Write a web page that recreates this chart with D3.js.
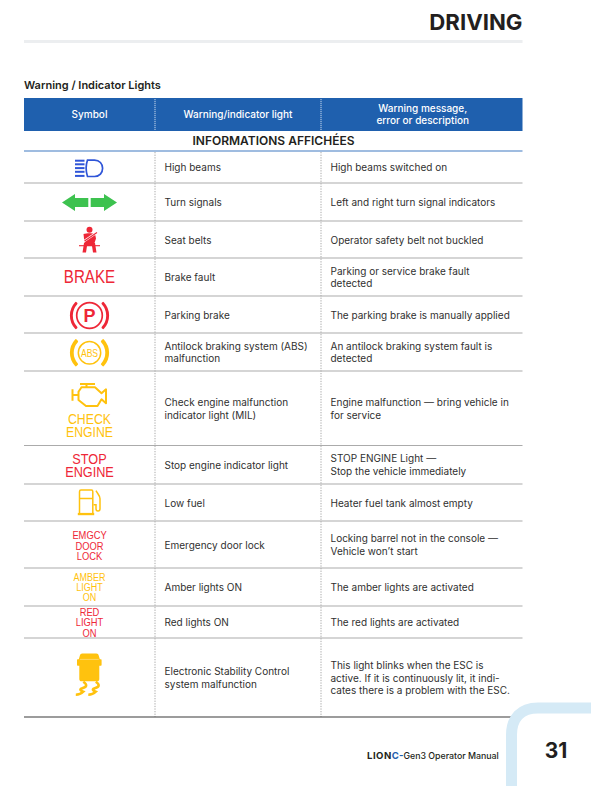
<!DOCTYPE html>
<html><head><meta charset="utf-8">
<script src="https://d3js.org/d3.v7.min.js"></script>
<style>html,body{margin:0;padding:0;background:#fff}svg{display:block}</style>
</head><body><div id="c"></div>
<script>
// ---- content ----
const pageTitle = "DRIVING";
const tableTitle = "Warning / Indicator Lights";
const headerLabels = [["Symbol"], ["Warning/indicator light"], ["Warning message,", "error or description"]];
const sectionLabel = "INFORMATIONS AFFICHÉES";
const lightNames = [
  ["High beams"], ["Turn signals"], ["Seat belts"], ["Brake fault"], ["Parking brake"],
  ["Antilock braking system (ABS)", "malfunction"],
  ["Check engine malfunction", "indicator light (MIL)"],
  ["Stop engine indicator light"], ["Low fuel"], ["Emergency door lock"],
  ["Amber lights ON"], ["Red lights ON"],
  ["Electronic Stability Control", "system malfunction"]
];
const lightDescriptions = [
  ["High beams switched on"], ["Left and right turn signal indicators"],
  ["Operator safety belt not buckled"],
  ["Parking or service brake fault", "detected"],
  ["The parking brake is manually applied"],
  ["An antilock braking system fault is", "detected"],
  ["Engine malfunction — bring vehicle in", "for service"],
  ["STOP ENGINE Light —", "Stop the vehicle immediately"],
  ["Heater fuel tank almost empty"],
  ["Locking barrel not in the console —", "Vehicle won’t start"],
  ["The amber lights are activated"], ["The red lights are activated"],
  ["This light blinks when the ESC is", "active. If it is continuously lit, it indi-", "cates there is a problem with the ESC."]
];
const symbolKinds = ["beam","turn","belt","text","park","abs","engine","text","fuel","text","text","text","esc"];
const symbolWords = [[],[],[],["BRAKE"],[],[],["CHECK","ENGINE"],["STOP","ENGINE"],[],["EMGCY","DOOR","LOCK"],["AMBER","LIGHT","ON"],["RED","LIGHT","ON"],[]];
const symbolColours = ["#2f55d8","#3dc24f","#ee2737","#ee2737","#ee2737","#ffc20e","#ffc20e","#ee2737","#ffc20e","#ee2737","#ffc20e","#ee2737","#ffc20e"];
const footerBrand = ["LION", "C-", "Gen3 Operator Manual"];
const pageNumber = "31";

// ---- layout ----
const W = 591, H = 786;
const colEdges = [24, 155, 321, 522.5];
const rowEdges = [151, 183, 221, 258, 296, 333, 371, 445.5, 484, 521, 568, 606, 638, 717];
const wordStyle = [null,null,null,{s:18.5,y:[277]},null,null,{s:15,y:[418.5,431.5]},{s:15.5,y:[458.5,472]},null,{s:11.4,y:[535.5,545.7,555.9]},{s:11,y:[577.5,587.5,597.5]},{s:11.4,y:[612,622.5,633]},null];
const narrowX = 0.82;
const sans = "Inter, 'Noto Sans', sans-serif";
const arial = "'Liberation Sans',sans-serif";
const ink = "#231f20";

const svg = d3.select("#c").append("svg").attr("width", W).attr("height", H).attr("viewBox", `0 0 ${W} ${H}`);
const rows = lightNames.map((n, i) => ({
  i, name: n, desc: lightDescriptions[i], kind: symbolKinds[i], words: symbolWords[i],
  colour: symbolColours[i], y0: rowEdges[i], y1: rowEdges[i + 1], ws: wordStyle[i]
}));
const cx = 89.5;

// title
svg.append("text").attr("x", 522.5).attr("y", 30).attr("text-anchor", "end")
  .attr("font-family", sans).attr("font-weight", 700).attr("font-size", 22.2).attr("fill", ink).text(pageTitle);
svg.append("rect").attr("x", 24).attr("y", 40).attr("width", 498.5).attr("height", 3).attr("fill", "#eceef0");
svg.append("text").attr("x", 24).attr("y", 89).attr("font-family", sans).attr("font-weight", 600)
  .attr("font-size", 11).attr("fill", ink).text(tableTitle);

// header
svg.append("rect").attr("x", colEdges[0]).attr("y", 98).attr("width", colEdges[3] - colEdges[0]).attr("height", 33).attr("fill", "#1f60ae");
headerLabels.forEach((lines, c) => {
  const x = (colEdges[c] + colEdges[c + 1]) / 2 + (c === 2 ? 1 : 0);
  lines.forEach((t, k) => svg.append("text").attr("x", x)
    .attr("y", 114.5 + (k - (lines.length - 1) / 2) * 12 + 3.7).attr("text-anchor", "middle")
    .attr("font-family", sans).attr("font-size", 10).attr("font-weight", 500).attr("fill", "#fff").text(t));
});
[colEdges[1], colEdges[2]].forEach(x => svg.append("line").attr("x1", x).attr("x2", x).attr("y1", 99).attr("y2", 130)
  .attr("stroke", "#c9d8ec").attr("stroke-width", 1).attr("stroke-dasharray", "1.2 0.8"));
svg.append("text").attr("x", 273.5).attr("y", 145).attr("text-anchor", "middle").attr("font-family", sans)
  .attr("font-weight", 600).attr("font-size", 12).attr("fill", ink).text(sectionLabel);
svg.append("line").attr("x1", 24).attr("x2", 522.5).attr("y1", 151).attr("y2", 151).attr("stroke", "#7fa6d6").attr("stroke-width", 1.3);

// vertical dotted rules
[colEdges[1], colEdges[2]].forEach(x => svg.append("line").attr("x1", x).attr("x2", x).attr("y1", 152).attr("y2", 717)
  .attr("stroke", "#a9a9a9").attr("stroke-width", 1).attr("stroke-dasharray", "1.3 1.3"));

// rows
const g = svg.selectAll("g.row").data(rows).join("g").attr("class", "row");
g.append("line").attr("x1", 24).attr("x2", 522.5).attr("y1", d => d.y1).attr("y2", d => d.y1)
  .attr("stroke", (d, i) => i === rows.length - 1 ? "#3b3b3b" : "#ababab").attr("stroke-width", 1.1);
function addLines(sel, x, key) {
  sel.each(function (d) {
    const lines = d[key], mid = (d.y0 + d.y1) / 2;
    d3.select(this).selectAll("text." + key).data(lines).join("text").attr("class", key)
      .attr("x", x).attr("y", (t, k) => mid + (k - (lines.length - 1) / 2) * 12.6 + 4)
      .attr("font-family", sans).attr("font-size", 10).attr("fill", "#303030").text(t => t);
  });
}
addLines(g, 164.5, "name");
addLines(g, 330.5, "desc");

// symbol text, condensed horizontally
g.filter(d => d.words.length > 0).each(function (d) {
  d3.select(this).selectAll("text.w").data(d.words).join("text").attr("class", "w")
    .attr("transform", (t, k) => `translate(${cx},${d.ws.y[k] + d.ws.s * 0.35}) scale(${narrowX},1)`)
    .attr("text-anchor", "middle").attr("font-family", arial).attr("font-size", d.ws.s).attr("fill", d.colour).text(t => t);
});

// symbol glyphs, drawn in a local box and placed by transform
const place = (sel, x, y) => sel.append("g").attr("transform", `translate(${x},${y})`);
const draw = {
  beam(s, c) {
    const t = place(s, 89, 168.3);
    [-8.6, -5, -1.2, 2.5, 6.6].forEach(v => t.append("rect").attr("x", -14).attr("y", v).attr("width", 9.5).attr("height", 2).attr("fill", c));
    t.append("path").attr("d", "M-1.5-8.2H5.5C10.5-8.2 13.6-4.5 13.6 0S10.5 8.2 5.5 8.2H-1.5C-3.1 3.5-3.1-3.5-1.5-8.2Z").attr("fill", "none").attr("stroke", c).attr("stroke-width", 1.7);
  },
  turn(s, c) {
    const t = place(s, 89.5, 202.5);
    t.append("path").attr("d", "M-27.5 0L-14.5-8.5V-4.6H-1.2V4.6H-14.5V8.5Z").attr("fill", c);
    t.append("path").attr("d", "M27.5 0L14.5-8.5V-4.6H1.2V4.6H14.5V8.5Z").attr("fill", c);
  },
  belt(s, c) {
    const t = place(s, 89.5, 240);
    t.append("circle").attr("cy", -10.2).attr("r", 3).attr("fill", c);
    t.append("path").attr("d", "M-6-6C-3-7 3-7 5.5-6L6.5-1.5 5 3H5.5L7 12.5H3.5L2.5 6H-2.5L-3.5 12.5H-7L-5.5 3H-5Z").attr("fill", c);
    t.append("path").attr("d", "M-6 1.5L8-8").attr("stroke", "#fff").attr("stroke-width", 2.2);
    t.append("path").attr("d", "M-5 1L7.5-7.5").attr("stroke", c).attr("stroke-width", 1.1);
    t.append("path").attr("d", "M-10.5 5.7H10.5").attr("stroke", c).attr("stroke-width", 1.1);
  },
  park(s, c) { ring(s, c, 315.5, 12.8, 16.7, 19.6, "P", 18, 700, 1.7); },
  abs(s, c) { ring(s, c, 352.8, 11.2, 15.8, 19.6, "ABS", 10.5, 400, 1.5); },
  engine(s, c) {
    const t = place(s, 89.5, 395);
    t.append("path").attr("d", "M-17-5.7V5.7M-17 0H-11M-9.5-11H5.5M-3-11V-7.7M-8-7.7H5.5L12-1.7 16.5-5.7V8.3L12 4.3 8 11H-3.5L-11 5V-3.3Z").attr("fill", "none").attr("stroke", c).attr("stroke-width", 2).attr("stroke-linejoin", "round");
  },
  fuel(s, c) {
    const t = place(s, 89.5, 501.7);
    t.append("path").attr("d", "M-10 12V-10C-10-11-9.5-11.7-8.5-11.7H2C3-11.7 3.3-11 3.3-10V12M-10-3.3H3.3").attr("fill", "none").attr("stroke", c).attr("stroke-width", 1.5);
    t.append("rect").attr("x", -11.7).attr("y", 11.2).attr("width", 16.4).attr("height", 2.3).attr("fill", c);
    t.append("path").attr("d", "M4 3H6.5V7C6.5 10 10.5 10 10.5 7V-3C10.5-6 8-8 6.5-11").attr("fill", "none").attr("stroke", c).attr("stroke-width", 1.5);
  },
  esc(s, c) {
    const t = place(s, 89.3, 671.7);
    t.append("path").attr("d", "M-7-18.3H7C8.5-18.3 9-17.5 9.5-16L10.5-12.5H11.5C12-12.5 12.3-12 12.3-11.5V-7C12.3-6.5 12-6 11.5-6H10V7.5C10 8.7 9 9.6 8 9.6H-8C-9 9.6-10 8.7-10 7.5V-6H-11.5C-12-6-12.3-6.5-12.3-7V-11.5C-12.3-12-12-12.5-11.5-12.5H-10.5L-9.5-16C-9-17.5-8.5-18.3-7-18.3Z").attr("fill", c);
    t.append("path").attr("d", "M-9.5-12.3H9.5").attr("stroke", "#fff").attr("stroke-width", 0.5).attr("opacity", 0.7);
    [0, 12.5].forEach(dx => t.append("path").attr("d", "M-6 10C-2 13-2 15-7 16.5C-12 18-6 20-6 20C-8 22-11 23-13.5 23").attr("transform", `translate(${dx},0)`).attr("fill", "none").attr("stroke", c).attr("stroke-width", 2.5));
  }
};
function ring(s, c, y, r, ri, ro, label, fs, fw, sw) {
  const t = place(s, 89.5, y);
  t.append("circle").attr("r", r).attr("fill", "none").attr("stroke", c).attr("stroke-width", sw);
  const arc = d3.arc().innerRadius(ri).outerRadius(ro).cornerRadius(1);
  [[-2.37, -0.77], [0.77, 2.37]].forEach(([a, b]) => t.append("path").attr("d", arc({ startAngle: a, endAngle: b })).attr("fill", c));
  t.append("text").attr("y", fs * 0.36).attr("text-anchor", "middle").attr("font-family", arial)
    .attr("transform", fw === 700 ? null : `scale(${narrowX},1)`)
    .attr("font-weight", fw).attr("font-size", fs).attr("fill", c).text(label);
}
g.filter(d => d.kind !== "text").each(function (d) { draw[d.kind](d3.select(this), d.colour); });

// footer
svg.append("path").attr("d", "M511.5 786V735C511.5 718 521 708 538 708H591").attr("fill", "none").attr("stroke", "#d5eaf6").attr("stroke-width", 11);
const ft = svg.append("text").attr("x", 367).attr("y", 758.5).attr("font-family", sans).attr("font-size", 8.8).attr("fill", ink);
ft.append("tspan").attr("font-weight", 700).attr("font-size", 9.6).attr("letter-spacing", 0.5).text(footerBrand[0]);
ft.append("tspan").attr("font-weight", 700).attr("font-size", 9.6).attr("fill", "#1f60ae").text(footerBrand[1]);
ft.append("tspan").attr("font-weight", 500).text(footerBrand[2]);
svg.append("text").attr("x", 556).attr("y", 758).attr("text-anchor", "middle").attr("font-family", sans)
  .attr("font-weight", 700).attr("font-size", 21).attr("fill", ink).text(pageNumber);
</script></body></html>
